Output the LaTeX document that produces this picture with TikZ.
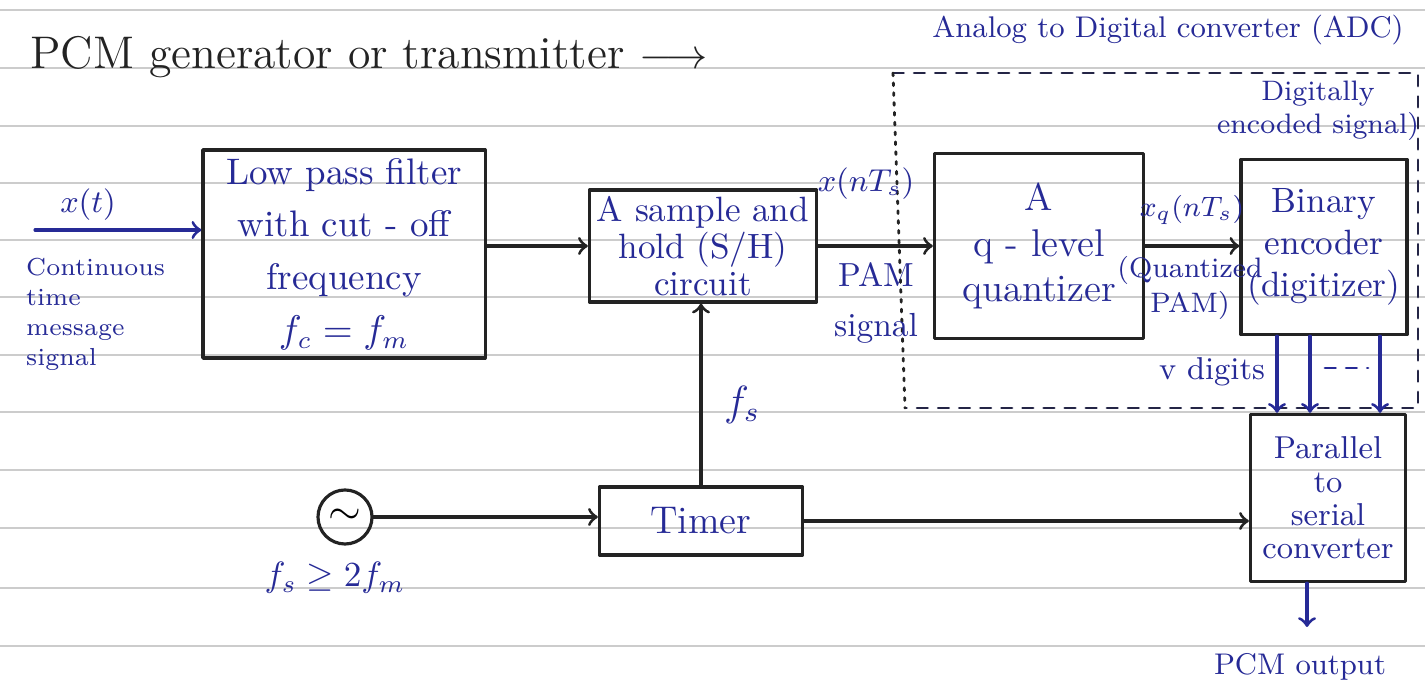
\documentclass[tikz,border=0pt]{standalone}
\usepackage{tikz}
\usetikzlibrary{arrows,positioning}

\definecolor{ink}{RGB}{38,42,150}
\definecolor{pencil}{RGB}{35,35,35}

\begin{document}
\begin{tikzpicture}[x=0.01cm,y=-0.01cm,line cap=round,line join=round,>=to,
  block/.style={draw=pencil,line width=.9pt,align=center,text=ink,inner sep=1pt},
  sig/.style={pencil,line width=.9pt,->},
  lbl/.style={text=ink,align=center,inner sep=1pt}]
  \useasboundingbox (0,0) rectangle (1425,698);

  % ruled paper
  \foreach \yy in {10,68,126,183,240,297,355,412,470,528,588,646}
    \draw[gray!40,line width=.6pt] (0,\yy) -- (1425,\yy);

  \node[anchor=west,text=pencil,font=\fontsize{13}{15}\selectfont] (title) at (18,57)
    {PCM generator or transmitter $\longrightarrow$};

  % ADC frame
  \node[lbl,font=\fontsize{8.5}{10}\selectfont] (adc) at (1168,30) {Analog to Digital converter (ADC)};
  \draw[pencil!70!ink,line width=.8pt,dashed] (893,73) -- (1418,73) -- (1418,408) -- (905,408);
  \draw[pencil,line width=.8pt,dotted] (893,73) -- (905,408);

  % blocks
  \node[block,minimum width=2.82cm,minimum height=2.08cm,font=\fontsize{10.5}{15}\selectfont] (lpf) at (344,254)
    {Low pass filter\\with cut - off\\frequency\\$f_c = f_m$};
  \node[block,minimum width=2.27cm,minimum height=1.12cm,font=\fontsize{10}{10.5}\selectfont] (sh) at (703,246)
    {A sample and\\hold (S/H)\\circuit};
  \node[block,minimum width=2.09cm,minimum height=1.85cm,font=\fontsize{11}{13}\selectfont] (quant) at (1039,246)
    {A\\q - level\\quantizer};
  \node[block,minimum width=1.66cm,minimum height=1.75cm,font=\fontsize{10}{12}\selectfont] (enc) at (1324,247)
    {Binary\\encoder\\(digitizer)};
  \node[block,minimum width=1.55cm,minimum height=1.67cm,font=\fontsize{9}{9.5}\selectfont] (pts) at (1328,498)
    {Parallel\\to\\serial\\converter};
  \node[block,minimum width=2.03cm,minimum height=0.68cm,font=\fontsize{11}{13}\selectfont] (timer) at (701,521) {Timer};
  \node[draw=pencil,line width=.9pt,circle,minimum size=0.54cm,inner sep=0pt,font=\large] (osc) at (345,517) {$\sim$};

  % connectors
  \coordinate (xin) at (35,230);
  \coordinate (pcmout) at (1307,627);
  \draw[sig,ink] (xin) -- (xin -| lpf.west);
  \draw[sig] (lpf.east |- sh.west) -- (sh.west);
  \draw[sig] (sh.east) -- (sh.east -| quant.west);
  \draw[sig] (quant.east) -- (quant.east -| enc.west);
  \draw[sig] (osc.east) -- (osc.east -| timer.west);
  \draw[sig] (timer.north) -- (timer.north |- sh.south);
  \draw[sig] (timer.east) -- (timer.east -| pts.west);
  \foreach \dx in {-0.47cm,-0.14cm,0.56cm}
    \draw[sig,ink] ([xshift=\dx]enc.south) -- ([xshift=\dx]enc.south |- pts.north);
  \draw[ink,line width=.8pt,dashed] (1325,368) -- (1368,368);
  \draw[sig,ink] (pts.south -| pcmout) -- (pcmout);

  % labels
  \node[lbl,font=\fontsize{9}{10}\selectfont] (xt) at (88,205) {$x(t)$};
  \node[lbl,align=left,anchor=north west,font=\fontsize{7}{8.5}\selectfont] (cont) at (22,254)
    {Continuous\\time\\message\\signal};
  \node[lbl,font=\fontsize{9}{10}\selectfont] (xnt) at (866,184) {$x(nT_s)$};
  \node[lbl,font=\fontsize{9.5}{14}\selectfont] (pam) at (876,303) {PAM\\signal};
  \node[lbl,font=\fontsize{8.5}{10}\selectfont] (xq) at (1192,210) {$x_q(nT_s)$};
  \node[lbl,font=\fontsize{8}{10}\selectfont] (qpam) at (1190,288) {(Quantized\\PAM)};
  \node[lbl,font=\fontsize{8}{9.5}\selectfont] (dig) at (1318,111) {Digitally\\encoded signal)};
  \node[lbl,font=\fontsize{9}{10}\selectfont] (vdig) at (1212,372) {v digits};
  \node[lbl,font=\fontsize{12}{13}\selectfont] (fs) at (742,405) {$f_s$};
  \node[lbl,font=\fontsize{10}{11}\selectfont] (fsmin) at (335,578) {$f_s \geq 2f_m$};
  \node[lbl,font=\fontsize{8.5}{10}\selectfont] (outl) at (1300,667) {PCM output};
\end{tikzpicture}
\end{document}
